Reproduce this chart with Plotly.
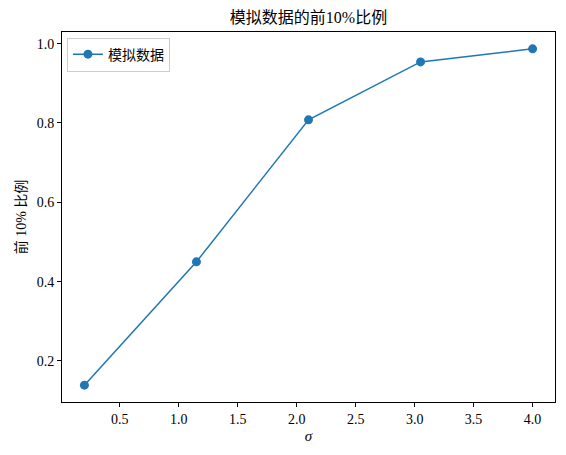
import plotly.graph_objs as go

sigma = [0.2, 1.15, 2.1, 3.05, 4.0]
top10_ratio = [0.139, 0.450, 0.808, 0.954, 0.987]
x_ticks = [0.5, 1.0, 1.5, 2.0, 2.5, 3.0, 3.5, 4.0]
y_ticks = [0.2, 0.4, 0.6, 0.8, 1.0]

font_family = "Liberation Serif, DejaVu Serif, Noto Sans CJK SC"
blue = "#1f77b4"

x_pad = (max(sigma) - min(sigma)) * 0.05
y_pad = (max(top10_ratio) - min(top10_ratio)) * 0.05

fig = go.Figure()
fig.add_trace(go.Scatter(
    x=sigma,
    y=top10_ratio,
    mode="lines+markers",
    name="模拟数据",
    line=dict(color=blue, width=1.5),
    marker=dict(color=blue, size=9),
))

axis_style = dict(
    showline=True, mirror=True, linecolor="black", linewidth=1,
    showgrid=False, zeroline=False, automargin=False,
    ticks="outside", ticklen=4, tickcolor="black",
    tickfont=dict(size=14, color="black", family=font_family),
)
fig.update_xaxes(
    range=[min(sigma) - x_pad, max(sigma) + x_pad],
    tickvals=x_ticks, ticktext=["{:.1f}".format(v) for v in x_ticks],
    title=dict(text="<i>σ</i>", font=dict(size=15, color="black"), standoff=4),
    **axis_style
)
fig.update_yaxes(
    range=[min(top10_ratio) - y_pad, max(top10_ratio) + y_pad],
    tickvals=y_ticks, ticktext=["{:.1f}".format(v) for v in y_ticks],
    title=dict(text="前 10% 比例", font=dict(size=14, color="black"), standoff=6),
    **axis_style
)
# the page adds an 8px body margin, so the figure is made that much smaller
fig.update_layout(
    width=550, height=439,
    margin=dict(l=54, r=3, t=24, b=45, autoexpand=False),
    paper_bgcolor="white", plot_bgcolor="white",
    font=dict(family=font_family, color="black"),
    title=dict(text="模拟数据的前10%比例", x=0.5, xanchor="center", xref="paper",
               y=0.992, yref="container", yanchor="top",
               font=dict(size=16, color="black")),
    showlegend=True,
    legend=dict(x=0.01, y=0.985, xanchor="left", yanchor="top",
                bordercolor="#cccccc", borderwidth=1, bgcolor="rgba(255,255,255,0.8)",
                font=dict(size=14, color="black")),
)
fig.write_html("out.html")
